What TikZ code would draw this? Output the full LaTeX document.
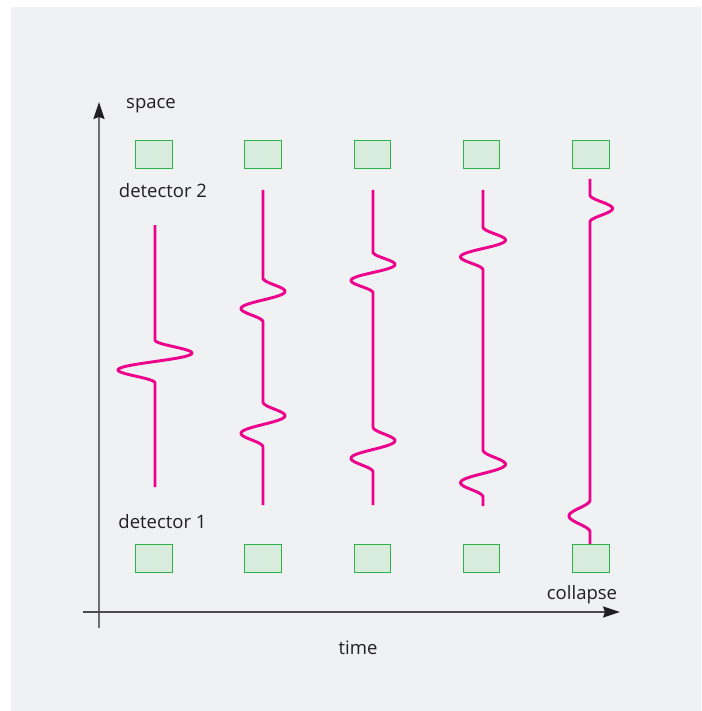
\documentclass[tikz,border=0pt]{standalone}
\usepackage{fontspec}
\setmainfont{Open Sans}
\usetikzlibrary{arrows.meta}
\definecolor{pagebg}{HTML}{F0F1F3}
\definecolor{inkdark}{HTML}{231F20}
\definecolor{axisgray}{HTML}{6D6E71}
\definecolor{detline}{HTML}{2DB34A}
\definecolor{detfill}{HTML}{D8ECDD}
\definecolor{wavepink}{HTML}{EC008C}

\begin{document}
\begin{tikzpicture}[
        x=1pt, y=-1pt,
        declare function={
          pk(\t)=2.598*pow(sin(180*\t),2)*cos(180*\t);
          bump(\t)=pow(sin(180*\t),2);
        },
        every node/.style={font=\fontsize{18.5}{22}\selectfont, text=inkdark},
        detector/.style={
          draw=detline, line width=1.4pt, fill=detfill,
          minimum width=36.5pt, minimum height=28pt, inner sep=0pt,
        },
        axis/.style={
          draw=axisgray, line width=1.5pt,
          -{Stealth[length=17pt, width=11pt, inset=2pt, color=inkdark]},
        },
        wave/.style={
          draw=wavepink, line width=2.9pt, line join=round,
        },
        packet/.style={domain=0:1, samples=60},
        label/.style={anchor=base},
      ]
      \useasboundingbox (0,0) rectangle (701,711);
      \fill[pagebg] (11,7) rectangle (701,711);

      \coordinate (ybot) at (99,628);
      \coordinate (ytop) at (99,102);
      \coordinate (xleft) at (83,612);
      \coordinate (xright) at (620,612);
      \draw[axis] (ybot) -- (ytop);
      \draw[axis, draw=inkdark!80] (xleft) -- (xright);

      \foreach \i/\x in {1/154, 2/263, 3/372.5, 4/481.5, 5/591} {
        \node[detector] (d\i t) at (\x,154.5) {};
        \node[detector] (d\i b) at (\x,558.5) {};
      }

      \node[label] (space) at (151,109) {space};
      \node[label] (det2) at (163,198) {detector 2};
      \node[label] (det1) at (162.5,528) {detector 1};
      \node[label] (coll) at (582,599) {collapse};
      \node[label] (time) at (358,654) {time};

      \draw[wave] (155,225) -- (155,340)
        -- plot[packet] ({155+37*pk(\x)}, {340+43*\x}) -- (155,487);
      \draw[wave] (263,190) -- (263,278)
        -- plot[packet] ({263+22*pk(\x)}, {278+44*\x}) -- (263,402)
        -- plot[packet] ({263+22*pk(\x)}, {402+45*\x}) -- (263,505);
      \draw[wave] (373,190) -- (373,252)
        -- plot[packet] ({373+22*pk(\x)}, {252+41*\x}) -- (373,427)
        -- plot[packet] ({373+22*pk(\x)}, {427+45*\x}) -- (373,505);
      \draw[wave] (483,190) -- (483,227)
        -- plot[packet] ({483+22.5*pk(\x)}, {227+43*\x}) -- (483,450)
        -- plot[packet] ({483+22.5*pk(\x)}, {450+47*\x}) -- (483,506);
      \draw[wave] (590,179) -- (590,195)
        -- plot[packet] ({590+22.5*bump(\x)}, {195+27*\x}) -- (590,500)
        -- plot[packet] ({590-21*bump(\x)}, {500+32*\x}) -- (590,532 |- d5b.north);
    \end{tikzpicture}
\end{document}
